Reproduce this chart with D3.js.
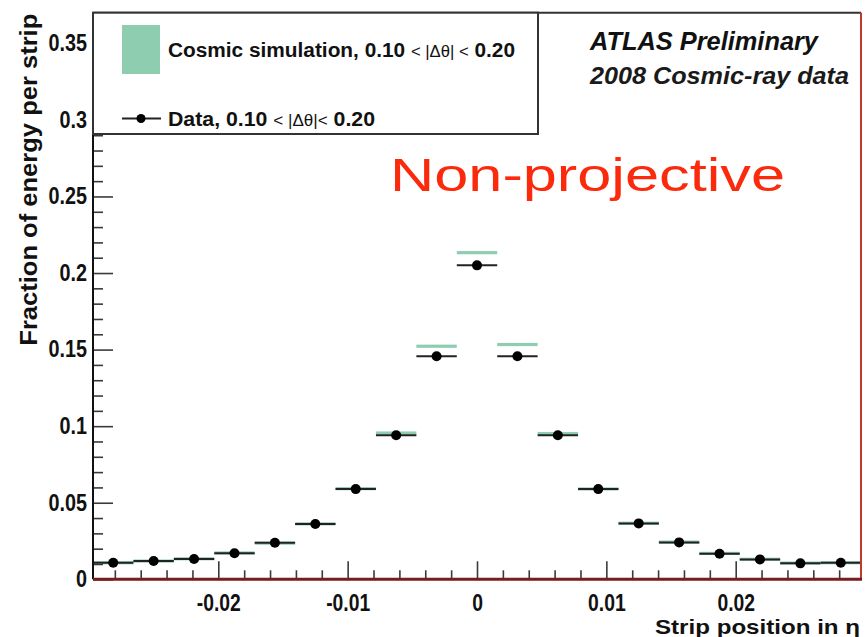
<!DOCTYPE html>
<html>
<head>
<meta charset="utf-8">
<script src="https://cdn.jsdelivr.net/npm/d3@7"></script>
<style>
  html, body { margin: 0; padding: 0; background: #fff; }
  svg { display: block; }
  text { font-family: "Liberation Sans", Arial, Helvetica, sans-serif; }
</style>
</head>
<body>
<svg id="chart" width="865" height="637"></svg>
<script>
// Strip centres in eta (strip pitch 0.003125)
const stripEta = [-0.028125, -0.025, -0.021875, -0.01875, -0.015625, -0.0125, -0.009375, -0.00625, -0.003125,
                  0, 0.003125, 0.00625, 0.009375, 0.0125, 0.015625, 0.01875, 0.021875, 0.025, 0.028125];
const stripWidth = 0.003125;

// Fraction of cluster energy per strip
const dataFraction = [0.0108, 0.0119, 0.0132, 0.0170, 0.0239, 0.0361, 0.0589, 0.0941, 0.1457,
                      0.2050, 0.1457, 0.0941, 0.0589, 0.0365, 0.0241, 0.0167, 0.0130, 0.0104, 0.0108];
const simFraction  = [0.0108, 0.0119, 0.0134, 0.0172, 0.0236, 0.0362, 0.0592, 0.0955, 0.1522,
                      0.2133, 0.1533, 0.0952, 0.0590, 0.0366, 0.0243, 0.0169, 0.0131, 0.0106, 0.0108];

// Axis ticks
const yMajorTicks = [0, 0.05, 0.1, 0.15, 0.2, 0.25, 0.3, 0.35];
const yMinorTicks = [0.01, 0.02, 0.03, 0.04, 0.06, 0.07, 0.08, 0.09, 0.11, 0.12, 0.13, 0.14, 0.16, 0.17, 0.18, 0.19,
                     0.21, 0.22, 0.23, 0.24, 0.26, 0.27, 0.28, 0.29, 0.31, 0.32, 0.33, 0.34, 0.36];
const yTickLabels = ["0", "0.05", "0.1", "0.15", "0.2", "0.25", "0.3", "0.35"];
const xMajorTicks = [-0.02, -0.01, 0, 0.01, 0.02];
const xMinorTicks = [-0.028, -0.026, -0.024, -0.022, -0.018, -0.016, -0.014, -0.012, -0.008, -0.006, -0.004, -0.002,
                     0.002, 0.004, 0.006, 0.008, 0.012, 0.014, 0.016, 0.018, 0.022, 0.024, 0.026, 0.028];
const xTickLabels = ["-0.02", "-0.01", "0", "0.01", "0.02"];

const svg = d3.select("#chart");
const plotLeft = 93, plotRight = 861, plotTop = 12.7, plotBottom = 579.3;

const x = d3.scaleLinear().domain([-0.0296875, 0.0296875]).range([plotLeft, plotRight]);
const y = d3.scaleLinear().domain([0, 0.37]).range([plotBottom, plotTop]);

const simColor = "#8fcdb1";

// Narrow a text element horizontally (condensed Helvetica look)
function condense(sel, factor) {
  sel.each(function () {
    const w = this.getComputedTextLength();
    d3.select(this).attr("textLength", w * factor).attr("lengthAdjust", "spacingAndGlyphs");
  });
}
// Stretch a text element to a given length
function fitLength(sel, len) {
  sel.attr("textLength", len).attr("lengthAdjust", "spacingAndGlyphs");
}

// Simulation: thin filled bands across each strip
svg.append("g").selectAll("rect")
  .data(stripEta)
  .join("rect")
  .attr("x", d => x(d - stripWidth / 2))
  .attr("width", d => x(d + stripWidth / 2) - x(d - stripWidth / 2))
  .attr("y", (d, i) => y(simFraction[i]) - 1.6)
  .attr("height", 3.2)
  .attr("fill", simColor);

// Data: horizontal bin-width bars with markers
const pts = svg.append("g");
pts.selectAll("line")
  .data(stripEta)
  .join("line")
  .attr("x1", d => x(d - stripWidth / 2))
  .attr("x2", d => x(d + stripWidth / 2))
  .attr("y1", (d, i) => y(dataFraction[i]))
  .attr("y2", (d, i) => y(dataFraction[i]))
  .attr("stroke", "#222")
  .attr("stroke-width", 2);
pts.selectAll("circle")
  .data(stripEta)
  .join("circle")
  .attr("cx", d => x(d))
  .attr("cy", (d, i) => y(dataFraction[i]))
  .attr("r", 5)
  .attr("fill", "#000");

// Y axis: inward ticks
const yMajor = svg.append("g").attr("transform", `translate(${plotLeft},0)`)
  .call(d3.axisLeft(y).tickValues(yMajorTicks).tickSizeInner(-20).tickSizeOuter(0).tickPadding(6)
        .tickFormat((d, i) => yTickLabels[i]));
const yMinor = svg.append("g").attr("transform", `translate(${plotLeft},0)`)
  .call(d3.axisLeft(y).tickValues(yMinorTicks).tickSizeInner(-10).tickSizeOuter(0).tickFormat(""));

// X axis: inward ticks
const xMajor = svg.append("g").attr("transform", `translate(0,${plotBottom})`)
  .call(d3.axisBottom(x).tickValues(xMajorTicks).tickSizeInner(-18).tickSizeOuter(0).tickPadding(15)
        .tickFormat((d, i) => xTickLabels[i]));
const xMinor = svg.append("g").attr("transform", `translate(0,${plotBottom})`)
  .call(d3.axisBottom(x).tickValues(xMinorTicks).tickSizeInner(-9).tickSizeOuter(0).tickFormat(""));

[yMajor, yMinor, xMajor, xMinor].forEach(g => {
  g.select(".domain").remove();
  g.selectAll(".tick line").attr("stroke", "#3a3a3a").attr("stroke-width", 1.6);
  g.selectAll(".tick text").attr("fill", "#111").attr("font-size", 23).attr("font-weight", "bold")
    .attr("font-family", "'Liberation Sans', Arial, sans-serif");
});
condense(yMajor.selectAll(".tick text"), 0.86);
condense(xMajor.selectAll(".tick text"), 0.84);

// Frame
const frame = svg.append("g").attr("fill", "none");
frame.append("line").attr("x1", plotLeft).attr("x2", plotRight).attr("y1", plotTop).attr("y2", plotTop)
  .attr("stroke", "#333").attr("stroke-width", 2);
frame.append("line").attr("x1", plotLeft).attr("x2", plotLeft).attr("y1", plotTop).attr("y2", plotBottom)
  .attr("stroke", "#111").attr("stroke-width", 2);
frame.append("line").attr("x1", plotRight).attr("x2", plotRight).attr("y1", plotTop).attr("y2", plotBottom)
  .attr("stroke", "#c0392b").attr("stroke-width", 2);
frame.append("line").attr("x1", plotLeft).attr("x2", plotRight + 1).attr("y1", plotBottom).attr("y2", plotBottom)
  .attr("stroke", "#7a1c1c").attr("stroke-width", 3);

// Axis titles
svg.append("text")
  .attr("transform", `translate(37,${plotTop + 1}) rotate(-90)`)
  .attr("text-anchor", "end")
  .attr("font-size", 23).attr("font-weight", "bold").attr("fill", "#111")
  .text("Fraction of energy per strip")
  .call(fitLength, 332);
svg.append("text")
  .attr("x", 860).attr("y", 634)
  .attr("text-anchor", "end")
  .attr("font-size", 21).attr("font-weight", "bold").attr("fill", "#111")
  .text("Strip position in η")
  .call(fitLength, 205);

// Legend
const legend = svg.append("g");
legend.append("rect").attr("x", plotLeft).attr("y", plotTop).attr("width", 538 - plotLeft).attr("height", 134 - plotTop)
  .attr("fill", "#fff").attr("stroke", "#333").attr("stroke-width", 2);
legend.append("rect").attr("x", 122).attr("y", 25).attr("width", 38).attr("height", 49).attr("fill", simColor);
legend.append("line").attr("x1", 122).attr("x2", 161).attr("y1", 118.5).attr("y2", 118.5)
  .attr("stroke", "#222").attr("stroke-width", 2);
legend.append("circle").attr("cx", 141).attr("cy", 118.5).attr("r", 4.5).attr("fill", "#000");

function legendLabel(yPos, head, mid, tail, len) {
  const t = legend.append("text").attr("x", 168).attr("y", yPos)
    .attr("font-size", 20).attr("font-weight", "bold").attr("fill", "#111");
  t.append("tspan").text(head);
  t.append("tspan").attr("font-size", 16).attr("font-weight", "normal").text(mid);
  t.append("tspan").text(tail);
  t.call(fitLength, len);
}
legendLabel(57, "Cosmic simulation, 0.10 ", "< |Δθ| <", " 0.20", 347);
legendLabel(126, "Data, 0.10 ", "< |Δθ|<", " 0.20", 207);

// Experiment label
svg.append("text").attr("x", 590).attr("y", 50)
  .attr("font-size", 25).attr("font-weight", "bold").attr("font-style", "italic").attr("fill", "#111")
  .text("ATLAS Preliminary")
  .call(fitLength, 228);
svg.append("text").attr("x", 590).attr("y", 84)
  .attr("font-size", 24).attr("font-weight", "bold").attr("font-style", "italic").attr("fill", "#1a1a1a")
  .text("2008 Cosmic-ray data")
  .call(fitLength, 259);

// Annotation
svg.append("text").attr("x", 390).attr("y", 191)
  .attr("font-family", "Lato, 'Open Sans', sans-serif")
  .attr("font-size", 46).attr("fill", "#fb2a0c")
  .text("Non-projective")
  .call(fitLength, 395);
</script>
</body>
</html>
